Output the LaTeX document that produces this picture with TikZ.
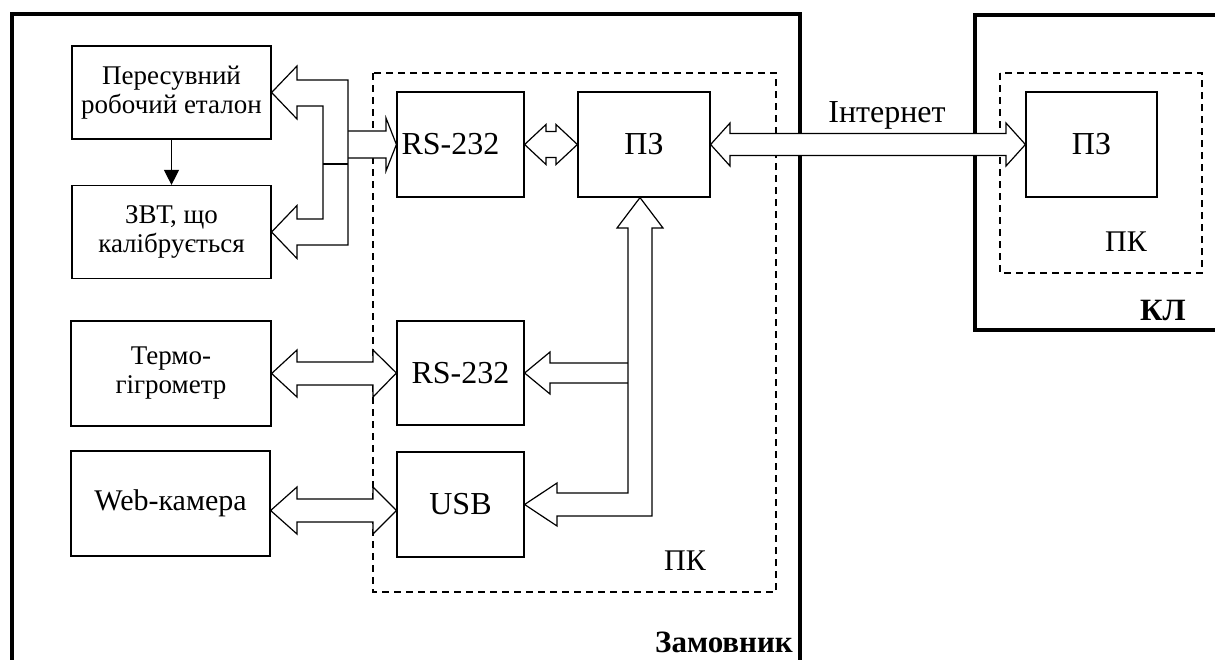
\documentclass[tikz,border=0pt]{standalone}
\usepackage{fontspec}
\setmainfont{Liberation Serif}
\usetikzlibrary{arrows.meta,calc}
\tikzset{
  blk/.style={draw, line width=1.2pt, fill=white, inner sep=0pt, align=center, font=\fontsize{27}{29}\selectfont},
  bigblk/.style={draw, line width=1.2pt, fill=white, inner sep=0pt, font=\fontsize{32}{36}\selectfont},
  outerframe/.style={line width=3.2pt},
  pkbox/.style={draw, dash pattern=on 7pt off 5pt, line width=1.3pt},
  bus/.style={draw, fill=white, line width=1.2pt, line join=miter},
  lbl/.style={font=\fontsize{30}{34}\selectfont, inner sep=0pt, anchor=base},
  blbl/.style={font=\bfseries\fontsize{31}{34}\selectfont, inner sep=0pt, anchor=base},
}
\begin{document}
\begin{tikzpicture}[x=1pt,y=-1pt]
\useasboundingbox (0,0) rectangle (1215,659);
% outer frames
\draw[outerframe] (12,680) -- (12,14) -- (800,14) -- (800,680);
\draw[outerframe] (1240,330) -- (975,330) -- (975,15) -- (1240,15);
% dashed PC boxes
\draw[pkbox] (373,73) rectangle (776,592);
\draw[pkbox] (1000,73) rectangle (1202,273);
% blocks
\node[blk, minimum width=199pt, minimum height=93pt] (pe) at (171.5,92.5) {Пересувний\\робочий еталон};
\node[blk, minimum width=199pt, minimum height=93pt] (zvt) at (171.5,232) {ЗВТ, що\\калібрується};
\node[blk, minimum width=200pt, minimum height=105pt] (tg) at (171,373.5) {Термо-\\гігрометр};
\node[blk, minimum width=199pt, minimum height=105pt, font=\fontsize{30}{34}\selectfont] (web) at (170.5,503.5) {Web-камера};
\node[bigblk, minimum width=127pt, minimum height=105pt] (rs1) at (460.5,144.5) {RS-232\kern20pt};
\node[bigblk, minimum width=132pt, minimum height=105pt] (pz) at (644,144.5) {ПЗ};
\node[bigblk, minimum width=127pt, minimum height=104pt] (rs2) at (460.5,373) {RS-232};
\node[bigblk, minimum width=127pt, minimum height=105pt] (usb) at (460.5,504.5) {USB};
\node[bigblk, minimum width=131pt, minimum height=105pt] (pz2) at (1091.5,144.5) {ПЗ};
% labels
\node[lbl, font=\fontsize{32}{36}\selectfont] (inet) at (887,122) {Інтернет};
\node[lbl] (pk1) at (685,570) {ПК};
\node[lbl] (pk2) at (1126,251) {ПК};
\node[blbl] (zam) at (724,652) {Замовник};
\node[blbl] (kl) at (1163,320) {КЛ};
% simple arrow
\draw[line width=1.2pt, -{Triangle[width=15pt,length=15pt]}] (pe.south) -- (zvt.north);
% left bus
\draw[bus] (348,131) -- (386,131) -- (386,118) -- (rs1.west) -- (386,171) -- (386,158) -- (348,158);
\draw[bus] (pe.east) -- (297,66) -- (297,80) -- (348,80) -- (348,245) -- (297,245) -- (297,258.5) -- (zvt.east) -- (297,205.5) -- (297,219) -- (323,219) -- (323,106) -- (297,106) -- (297,119) -- cycle;
\draw[line width=1.2pt] (323,164) -- (348,164);
% right bus
\draw[bus] (628,363) -- (550,363) -- (550,352) -- (rs2.east) -- (550,394) -- (550,383) -- (628,383);
\draw[bus] ($(pz.south)+(-4,0)$) -- (663,228) -- (652,228) -- (652,516) -- (557,516) -- (557,526) -- (usb.east) -- (557,483) -- (557,493) -- (628,493) -- (628,228) -- (617,228) -- cycle;
% device links
\draw[bus] (tg.east) -- (297,350) -- (297,362) -- (373,362) -- (373,350) -- (rs2.west) -- (373,397) -- (373,385) -- (297,385) -- (297,397) -- cycle;
\draw[bus] ($(web.east)+(0,7)$) -- (297,487) -- (297,499) -- (373,499) -- (373,487) -- ($(usb.west)+(0,6)$) -- (373,534) -- (373,522) -- (297,522) -- (297,534) -- cycle;
\draw[bus] (rs1.east) -- (546,124.5) -- (546,131.5) -- (556,131.5) -- (556,124.5) -- (pz.west) -- (556,164.5) -- (556,157.5) -- (546,157.5) -- (546,164.5) -- cycle;
% internet
\draw[bus] (pz.east) -- (730,123) -- (730,133.5) -- (1006,133.5) -- (1006,123) -- (pz2.west) -- (1006,166) -- (1006,155.5) -- (730,155.5) -- (730,166) -- cycle;
\end{tikzpicture}
\end{document}
